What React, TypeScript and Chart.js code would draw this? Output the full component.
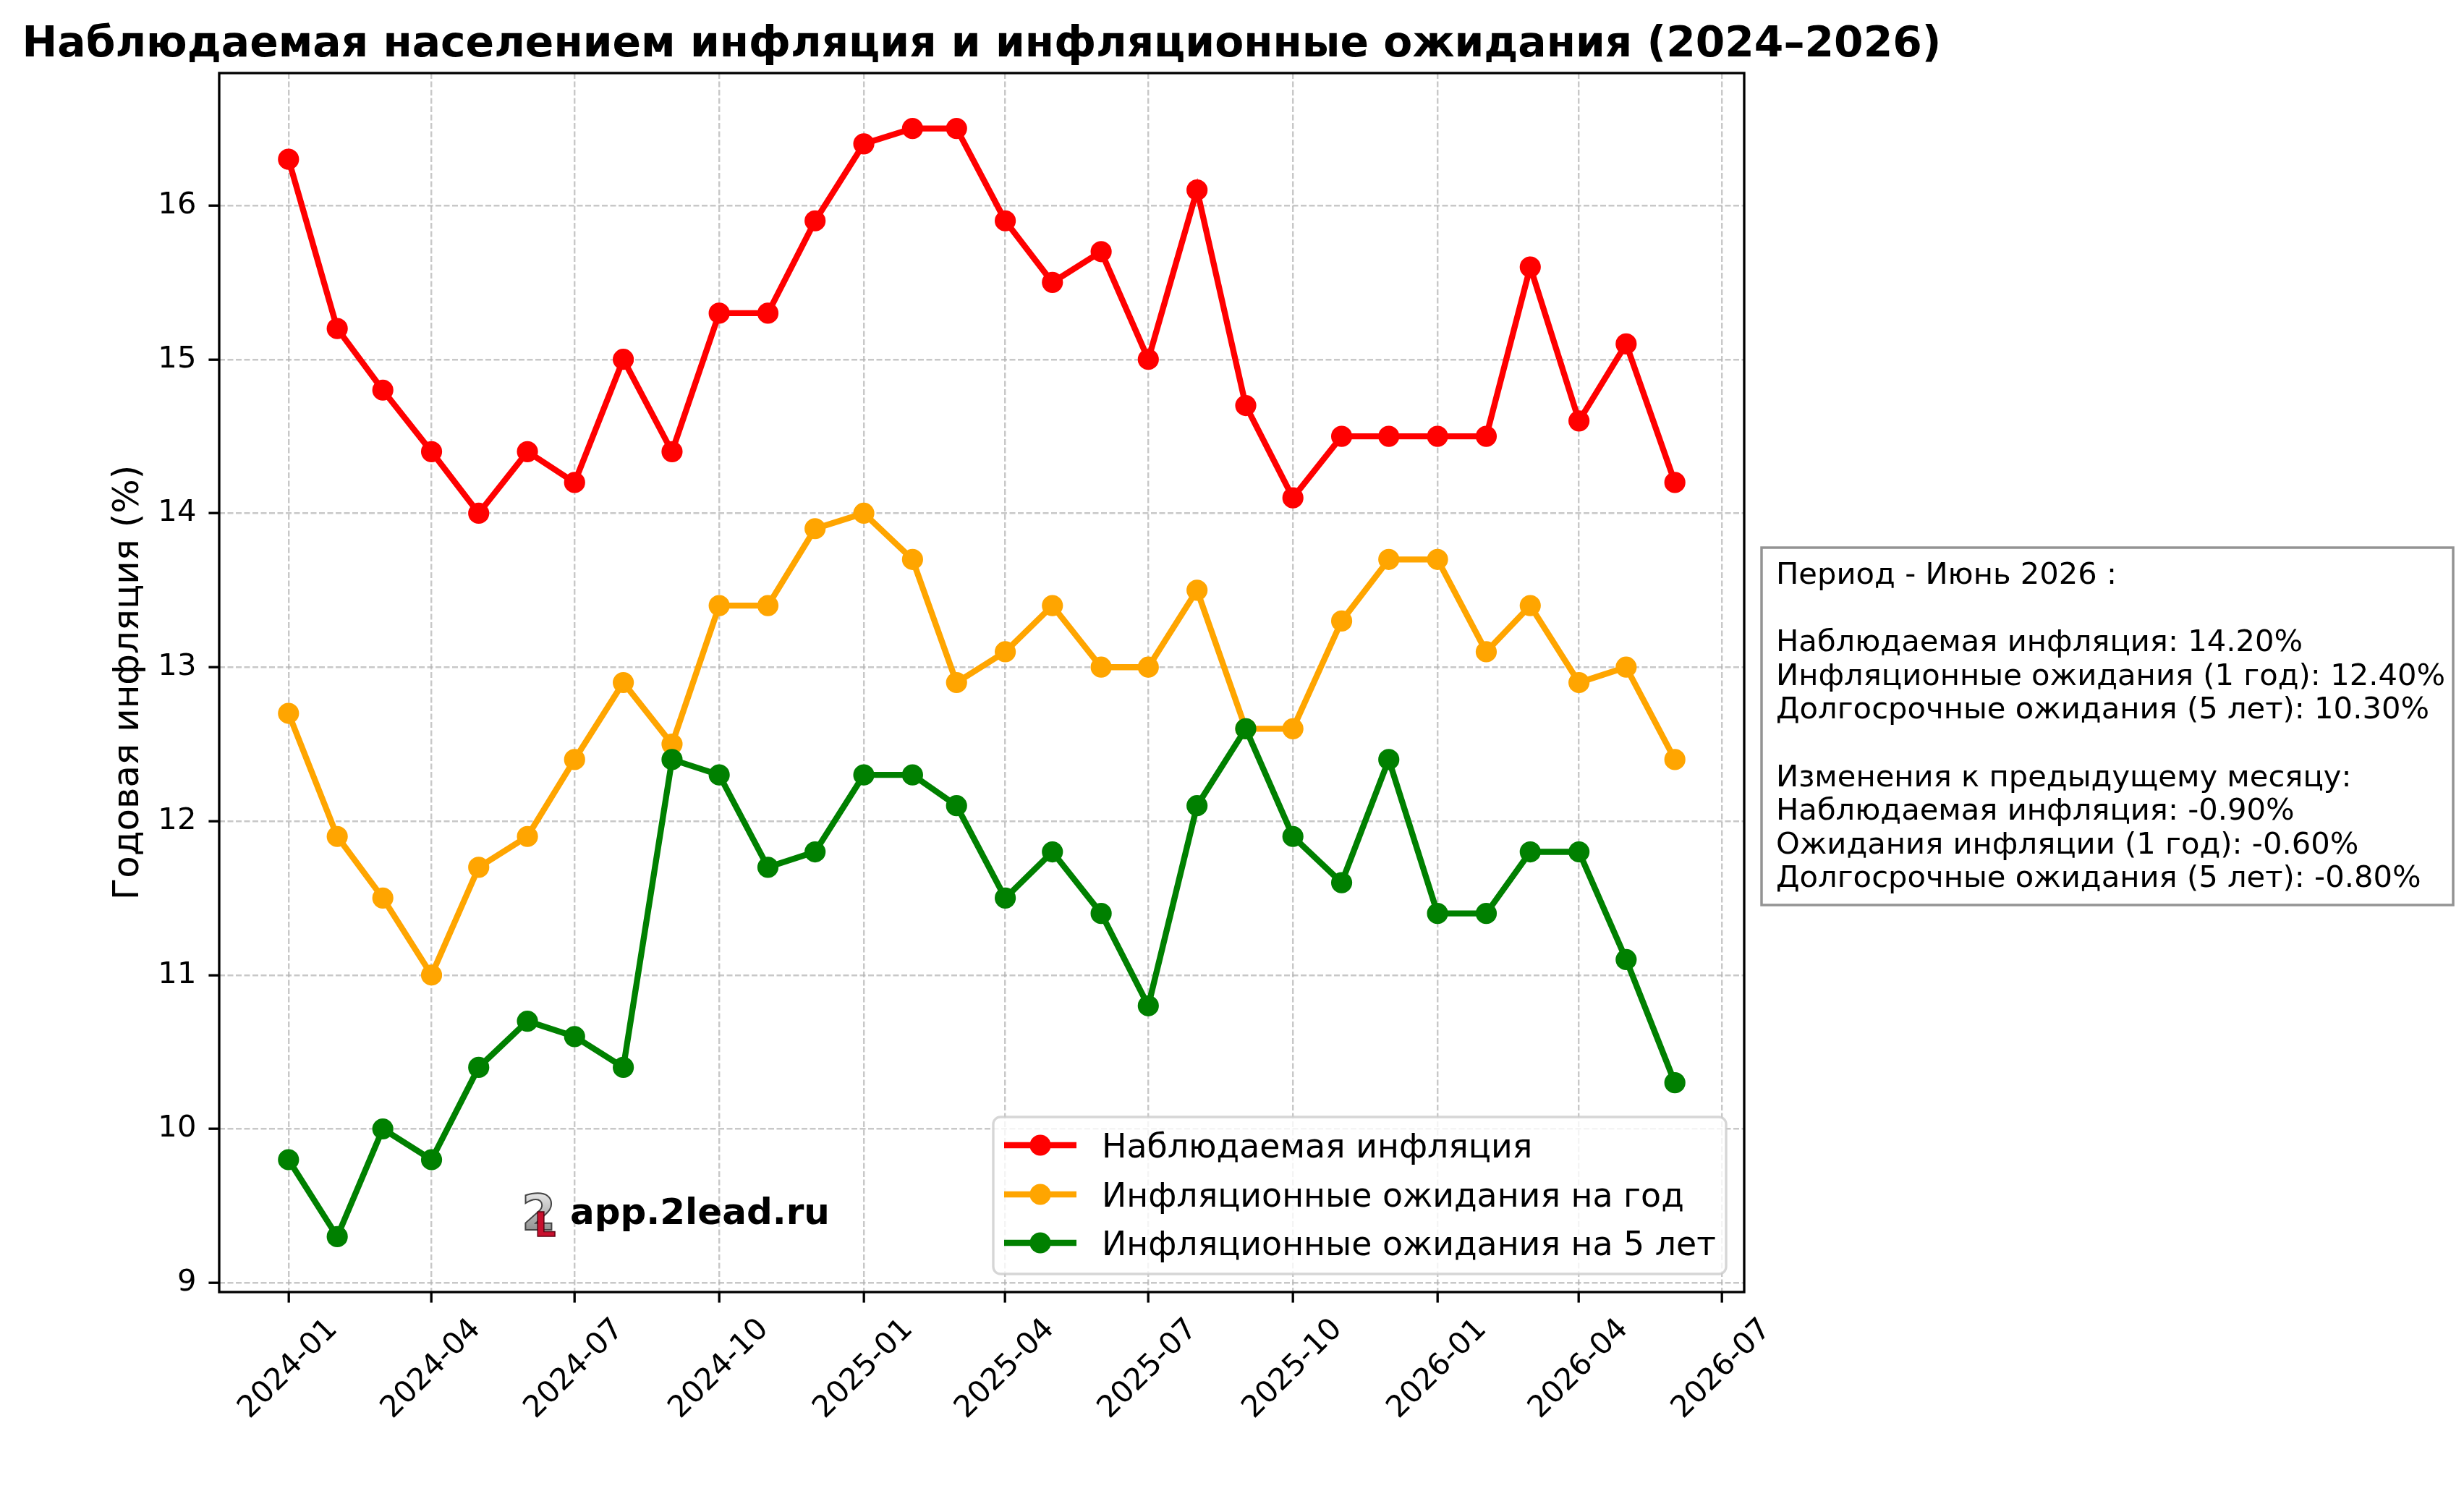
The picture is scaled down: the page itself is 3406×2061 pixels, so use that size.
import { useEffect, useRef } from 'react';
import { Chart, registerables } from 'chart.js';

Chart.register(...registerables);

const W = 3406;
const H = 2061;
const FONT = '"DejaVu Sans", sans-serif';

// plot box in pixels (matches the reference frame)
const PLOT = { left: 303, top: 101, right: 2411, bottom: 1786 };

const months = [
  '2024-01', '2024-02', '2024-03', '2024-04', '2024-05', '2024-06',
  '2024-07', '2024-08', '2024-09', '2024-10', '2024-11', '2024-12',
  '2025-01', '2025-02', '2025-03', '2025-04', '2025-05', '2025-06',
  '2025-07', '2025-08', '2025-09', '2025-10', '2025-11', '2025-12',
  '2026-01', '2026-02', '2026-03', '2026-04', '2026-05', '2026-06',
];

const observed = [
  16.3, 15.2, 14.8, 14.4, 14.0, 14.4, 14.2, 15.0, 14.4, 15.3, 15.3, 15.9,
  16.4, 16.5, 16.5, 15.9, 15.5, 15.7, 15.0, 16.1, 14.7, 14.1, 14.5, 14.5,
  14.5, 14.5, 15.6, 14.6, 15.1, 14.2,
];

const expect1y = [
  12.7, 11.9, 11.5, 11.0, 11.7, 11.9, 12.4, 12.9, 12.5, 13.4, 13.4, 13.9,
  14.0, 13.7, 12.9, 13.1, 13.4, 13.0, 13.0, 13.5, 12.6, 12.6, 13.3, 13.7,
  13.7, 13.1, 13.4, 12.9, 13.0, 12.4,
];

const expect5y = [
  9.8, 9.3, 10.0, 9.8, 10.4, 10.7, 10.6, 10.4, 12.4, 12.3, 11.7, 11.8,
  12.3, 12.3, 12.1, 11.5, 11.8, 11.4, 10.8, 12.1, 12.6, 11.9, 11.6, 12.4,
  11.4, 11.4, 11.8, 11.8, 11.1, 10.3,
];

const xTickLabels = [
  '2024-01', '2024-04', '2024-07', '2024-10', '2025-01', '2025-04',
  '2025-07', '2025-10', '2026-01', '2026-04', '2026-07',
];
const yTicks = [9, 10, 11, 12, 13, 14, 15, 16];

const seriesLabels = [
  'Наблюдаемая инфляция',
  'Инфляционные ожидания на год',
  'Инфляционные ожидания на 5 лет',
];
const seriesColors = ['#ff0000', '#ffa500', '#008000'];

const title = 'Наблюдаемая населением инфляция и инфляционные ожидания (2024–2026)';
const yTitle = 'Годовая инфляция (%)';
const periodLabel = 'Июнь 2026';
const watermark = 'app.2lead.ru';

const toDay = (ym: string) => {
  const [y, m] = ym.split('-').map(Number);
  return Date.UTC(y, m - 1, 1) / 86400000;
};

const xs = months.map(toDay);
const xPad = (xs[xs.length - 1] - xs[0]) * 0.05;
const allVals = [...observed, ...expect1y, ...expect5y];
const yLo = Math.min(...allVals);
const yHi = Math.max(...allVals);
const yPad = (yHi - yLo) * 0.05;

const last = (a: number[]) => a[a.length - 1];
const diff = (a: number[]) => a[a.length - 1] - a[a.length - 2];
const pct = (v: number) => `${v.toFixed(2)}%`;

const noteLines = [
  `Период - ${periodLabel} :`,
  '',
  `Наблюдаемая инфляция: ${pct(last(observed))}`,
  `Инфляционные ожидания (1 год): ${pct(last(expect1y))}`,
  `Долгосрочные ожидания (5 лет): ${pct(last(expect5y))}`,
  '',
  'Изменения к предыдущему месяцу:',
  `Наблюдаемая инфляция: ${pct(diff(observed))}`,
  `Ожидания инфляции (1 год): ${pct(diff(expect1y))}`,
  `Долгосрочные ожидания (5 лет): ${pct(diff(expect5y))}`,
];

// sizes in px (points at 300 dpi)
const TICK_FONT = 41.7;
const LEGEND_FONT = 45.8;
const LABEL_FONT = 50;
const TITLE_FONT = 58.3;

const decorations = {
  id: 'decorations',
  beforeDraw(chart: any) {
    const ctx = chart.ctx;
    ctx.save();
    ctx.fillStyle = '#fff';
    ctx.fillRect(0, 0, chart.width, chart.height);
    ctx.restore();
  },
  afterDatasetsDraw(chart: any) {
    const { ctx, chartArea: a } = chart;
    ctx.save();
    ctx.strokeStyle = '#000';
    ctx.lineWidth = 3.33;
    ctx.strokeRect(a.left, a.top, a.right - a.left, a.bottom - a.top);
    ctx.restore();
  },
  afterDraw(chart: any) {
    const { ctx, chartArea: a } = chart;
    const xScale = chart.scales.x;
    ctx.save();
    ctx.fillStyle = '#000';

    // title
    ctx.font = `bold ${TITLE_FONT}px ${FONT}`;
    ctx.textAlign = 'center';
    ctx.textBaseline = 'alphabetic';
    ctx.fillText(title, (a.left + a.right) / 2, 78);

    // y axis title
    ctx.save();
    ctx.translate(191, (a.top + a.bottom) / 2);
    ctx.rotate(-Math.PI / 2);
    ctx.font = `${LABEL_FONT}px ${FONT}`;
    ctx.fillText(yTitle, 0, 0);
    ctx.restore();

    // rotated x tick labels, centred under the tick like matplotlib
    ctx.font = `${TICK_FONT}px ${FONT}`;
    ctx.textBaseline = 'middle';
    const fh = TICK_FONT * 1.164;
    xScale.ticks.forEach((t: any, i: number) => {
      const label = xTickLabels[i];
      const px = xScale.getPixelForValue(t.value);
      const w = ctx.measureText(label).width;
      const bh = (w + fh) * Math.SQRT1_2;
      ctx.save();
      ctx.translate(px, a.bottom + 28 + bh / 2);
      ctx.rotate(-Math.PI / 4);
      ctx.fillText(label, 0, 0);
      ctx.restore();
    });

    // legend
    const lg = { left: 1373, top: 1544, right: 2386, bottom: 1761 };
    ctx.beginPath();
    ctx.roundRect(lg.left, lg.top, lg.right - lg.left, lg.bottom - lg.top, 10);
    ctx.fillStyle = 'rgba(255,255,255,0.8)';
    ctx.fill();
    ctx.strokeStyle = 'rgba(204,204,204,0.8)';
    ctx.lineWidth = 3.33;
    ctx.stroke();
    const rows = [1583, 1651, 1718];
    ctx.font = `${LEGEND_FONT}px ${FONT}`;
    ctx.textAlign = 'left';
    ctx.textBaseline = 'alphabetic';
    chart.data.datasets.forEach((ds: any, i: number) => {
      const y = rows[i];
      ctx.strokeStyle = ds.borderColor;
      ctx.lineWidth = 8.33;
      ctx.beginPath();
      ctx.moveTo(1388, y);
      ctx.lineTo(1488, y);
      ctx.stroke();
      ctx.beginPath();
      ctx.arc(1438, y, 14.6, 0, Math.PI * 2);
      ctx.fillStyle = ds.borderColor;
      ctx.fill();
      ctx.fillStyle = '#000';
      ctx.fillText(ds.label, 1523, y + LEGEND_FONT * 0.364);
    });

    // annotation box on the right
    const nb = { left: 2435, top: 757, right: 3391, bottom: 1251 };
    ctx.fillStyle = '#fff';
    ctx.fillRect(nb.left, nb.top, nb.right - nb.left, nb.bottom - nb.top);
    ctx.strokeStyle = 'rgba(128,128,128,0.85)';
    ctx.lineWidth = 3.5;
    ctx.strokeRect(nb.left, nb.top, nb.right - nb.left, nb.bottom - nb.top);
    ctx.fillStyle = '#000';
    ctx.font = `${TICK_FONT}px ${FONT}`;
    noteLines.forEach((line, i) => {
      if (line) ctx.fillText(line, 2455, 807 + i * 46.6);
    });

    // watermark with a small "2L" logo
    const grad = ctx.createLinearGradient(0, 1643, 0, 1705);
    grad.addColorStop(0, '#f0f0f0');
    grad.addColorStop(1, '#8a8a8a');
    ctx.font = `bold 68px ${FONT}`;
    ctx.fillStyle = grad;
    ctx.strokeStyle = '#444';
    ctx.lineWidth = 2;
    ctx.fillText('2', 721, 1700);
    ctx.strokeText('2', 721, 1700);
    ctx.font = `bold 46px ${FONT}`;
    ctx.fillStyle = '#c8102e';
    ctx.strokeStyle = '#5a0010';
    ctx.lineWidth = 1.5;
    ctx.fillText('L', 739, 1709);
    ctx.strokeText('L', 739, 1709);
    ctx.font = `bold ${LABEL_FONT}px ${FONT}`;
    ctx.fillStyle = '#000';
    ctx.fillText(watermark, 788, 1692);

    ctx.restore();
  },
};

export default function App() {
  const canvasRef = useRef<HTMLCanvasElement>(null);

  useEffect(() => {
    if (!canvasRef.current) return;
    const ctx = canvasRef.current.getContext('2d');
    if (!ctx) return;

    const series = [observed, expect1y, expect5y];
    const gridCommon = {
      color: 'rgba(176,176,176,0.7)',
      lineWidth: 2.4,
      tickColor: '#000',
      tickWidth: 3.33,
      tickLength: 14.6,
    };

    const chart = new Chart(ctx, {
      type: 'line',
      data: {
        datasets: series.map((vals, i) => ({
          label: seriesLabels[i],
          data: vals.map((v, j) => ({ x: xs[j], y: v })),
          borderColor: seriesColors[i],
          backgroundColor: seriesColors[i],
          pointBackgroundColor: seriesColors[i],
          pointBorderColor: seriesColors[i],
          borderWidth: 8.33,
          pointRadius: 12.5,
          pointBorderWidth: 4.2,
          tension: 0,
          fill: false,
          order: series.length - i,
        })),
      },
      options: {
        animation: false,
        responsive: false,
        devicePixelRatio: 1,
        layout: {
          padding: { left: 0, top: PLOT.top, right: W - PLOT.right, bottom: 0 },
        },
        plugins: {
          legend: { display: false },
          title: { display: false },
          tooltip: { enabled: false },
        },
        scales: {
          x: {
            type: 'linear',
            min: xs[0] - xPad,
            max: xs[xs.length - 1] + xPad,
            afterBuildTicks: (s: any) => {
              s.ticks = xTickLabels.map((l) => ({ value: toDay(l) }));
            },
            afterFit: (s: any) => {
              s.height = H - PLOT.bottom;
            },
            ticks: { display: false },
            grid: gridCommon,
            border: { display: false, dash: [8, 3.5] },
          },
          y: {
            type: 'linear',
            min: yLo - yPad,
            max: yHi + yPad,
            afterBuildTicks: (s: any) => {
              s.ticks = yTicks.map((v) => ({ value: v }));
            },
            afterFit: (s: any) => {
              s.width = PLOT.left;
            },
            ticks: {
              color: '#000',
              padding: 17,
              font: { family: FONT, size: TICK_FONT },
              callback: (v: any) => String(v),
            },
            grid: gridCommon,
            border: { display: false, dash: [8, 3.5] },
          },
        },
      },
      plugins: [decorations],
    });

    return () => chart.destroy();
  }, []);

  return (
    <div style={{ position: 'absolute', left: 0, top: 0, width: W, height: H, background: '#fff' }}>
      <canvas ref={canvasRef} width={W} height={H} style={{ display: 'block' }} />
    </div>
  );
}
